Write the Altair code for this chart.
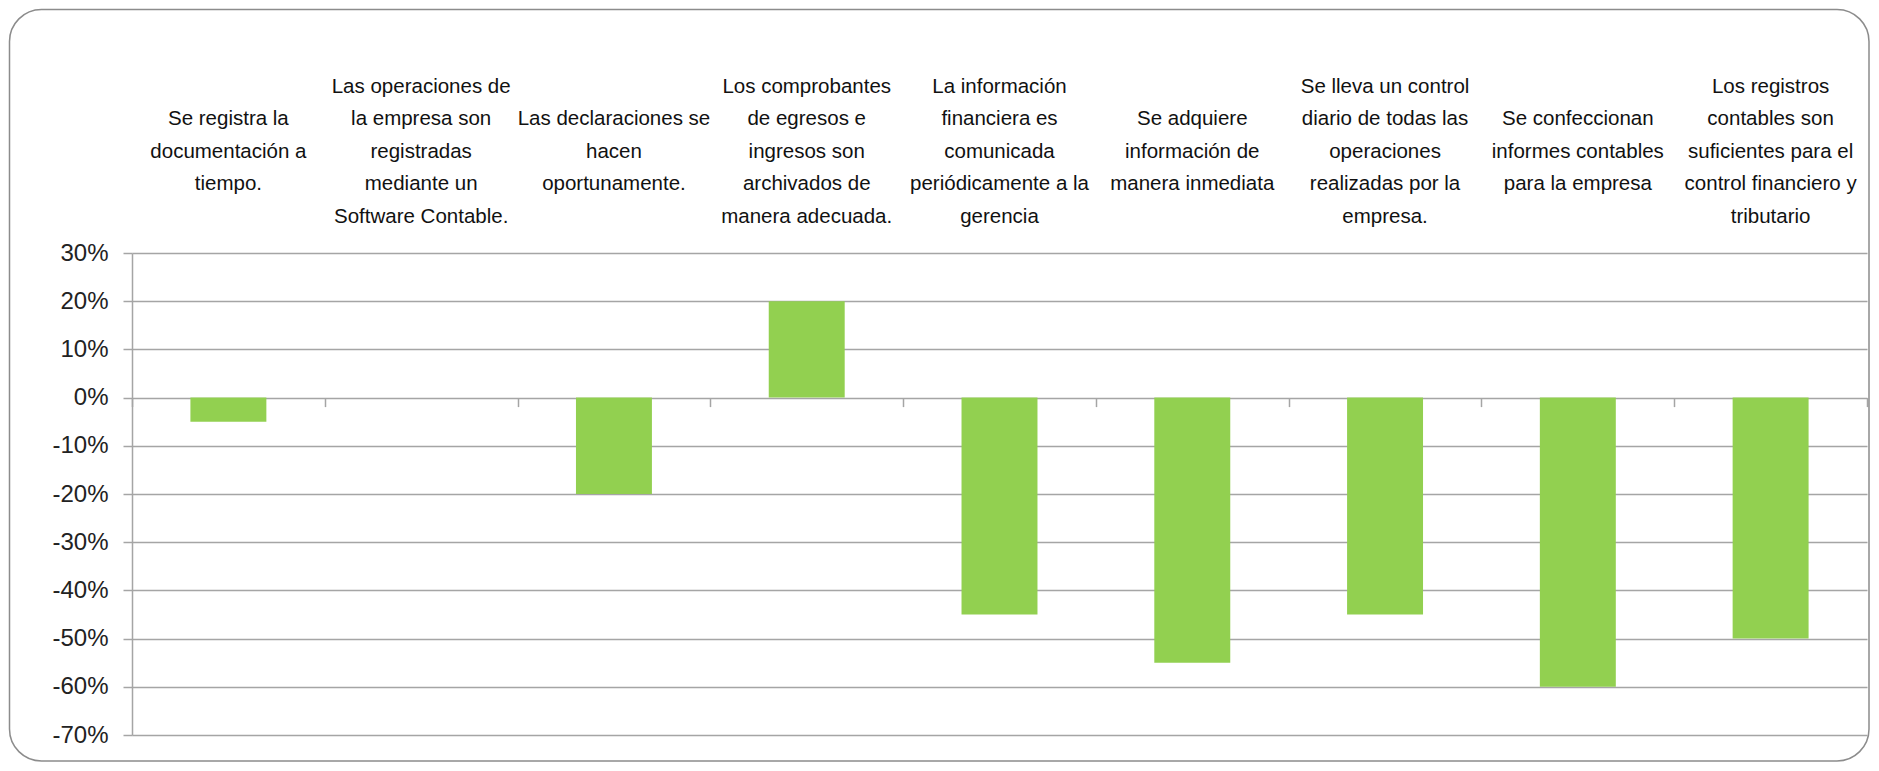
import altair as alt
import pandas as pd

categories = [
    "Se registra la\ndocumentación a\ntiempo.",
    "Las operaciones de\nla empresa son\nregistradas\nmediante un\nSoftware Contable.",
    "Las declaraciones  se\nhacen\noportunamente.",
    "Los comprobantes\nde egresos e\ningresos son\narchivados de\nmanera adecuada.",
    "La información\nfinanciera es\ncomunicada\nperiódicamente a la\ngerencia",
    "Se adquiere\ninformación de\nmanera inmediata",
    "Se lleva un control\ndiario de todas las\noperaciones\nrealizadas por la\nempresa.",
    "Se confeccionan\ninformes contables\npara la empresa",
    "Los registros\ncontables son\nsuficientes para el\ncontrol financiero y\ntributario",
]
values = [-0.05, 0.0, -0.20, 0.20, -0.45, -0.55, -0.45, -0.60, -0.50]
y_ticks = [0.3, 0.2, 0.1, 0.0, -0.1, -0.2, -0.3, -0.4, -0.5, -0.6, -0.7]

df = pd.DataFrame({"pregunta": categories, "valor": values})

W, H = 1735, 482
FONT = "Liberation Sans, Arial, sans-serif"
GRID = "#A5A5A5"

xscale = alt.Scale(paddingInner=0.606, paddingOuter=0.303)
yscale = alt.Scale(domain=[-0.7, 0.3], nice=False, zero=False)

yaxis = alt.Axis(
    values=y_ticks,
    labelExpr="round(datum.value*100) + '%'",
    domainColor=GRID, domainWidth=1.5,
    tickColor=GRID, tickWidth=1.5, tickSize=9,
    gridColor=GRID, gridWidth=1.5,
    labelFont=FONT, labelFontSize=24, labelColor="#222222",
    labelPadding=15,
)

label_expr = (
    "split(slice('\\n\\n\\n\\n', 0, 5 - length(split(datum.label, '\\n')))"
    " + datum.label, '\\n')"
)

bars = alt.Chart(df).mark_bar(color="#92D050").encode(
    x=alt.X(
        "pregunta:N", sort=None, scale=xscale, title=None,
        axis=alt.Axis(
            orient="top", labelExpr=label_expr,
            domain=False, ticks=False, grid=False,
            labelFont=FONT, labelFontSize=20.5, labelLineHeight=32.5,
            labelPadding=157, labelBaseline="bottom", labelLimit=300,
            labelAngle=0, labelColor="#111111",
        ),
    ),
    y=alt.Y("valor:Q", scale=yscale, title=None, axis=yaxis),
)

zero_ticks = alt.Chart(df).mark_rule(opacity=0).encode(
    x=alt.X(
        "pregunta:N", sort=None, title=None,
        scale=alt.Scale(paddingInner=0, paddingOuter=0),
        axis=alt.Axis(
            orient="bottom", offset=-(H * 0.7), labels=False, domain=False,
            grid=False, tickBand="extent", tickSize=9, tickWidth=1.5,
            tickColor=GRID,
        ),
    ),
)

border = alt.Chart(pd.DataFrame({"k": [0]})).mark_rect(
    fillOpacity=0, stroke="#8C8C8C", strokeWidth=1.5, cornerRadius=32
).encode(
    x=alt.value(-122.5), x2=alt.value(W + 2),
    y=alt.value(-243.5), y2=alt.value(H + 26),
)

chart = (
    alt.layer(zero_ticks, bars, border)
    .resolve_scale(x="independent")
    .resolve_axis(x="independent")
    .properties(width=W, height=H, padding=0, background="white")
    .configure_view(strokeWidth=0)
)

chart.save("out.html", embed_options={"renderer": "svg", "actions": False})
